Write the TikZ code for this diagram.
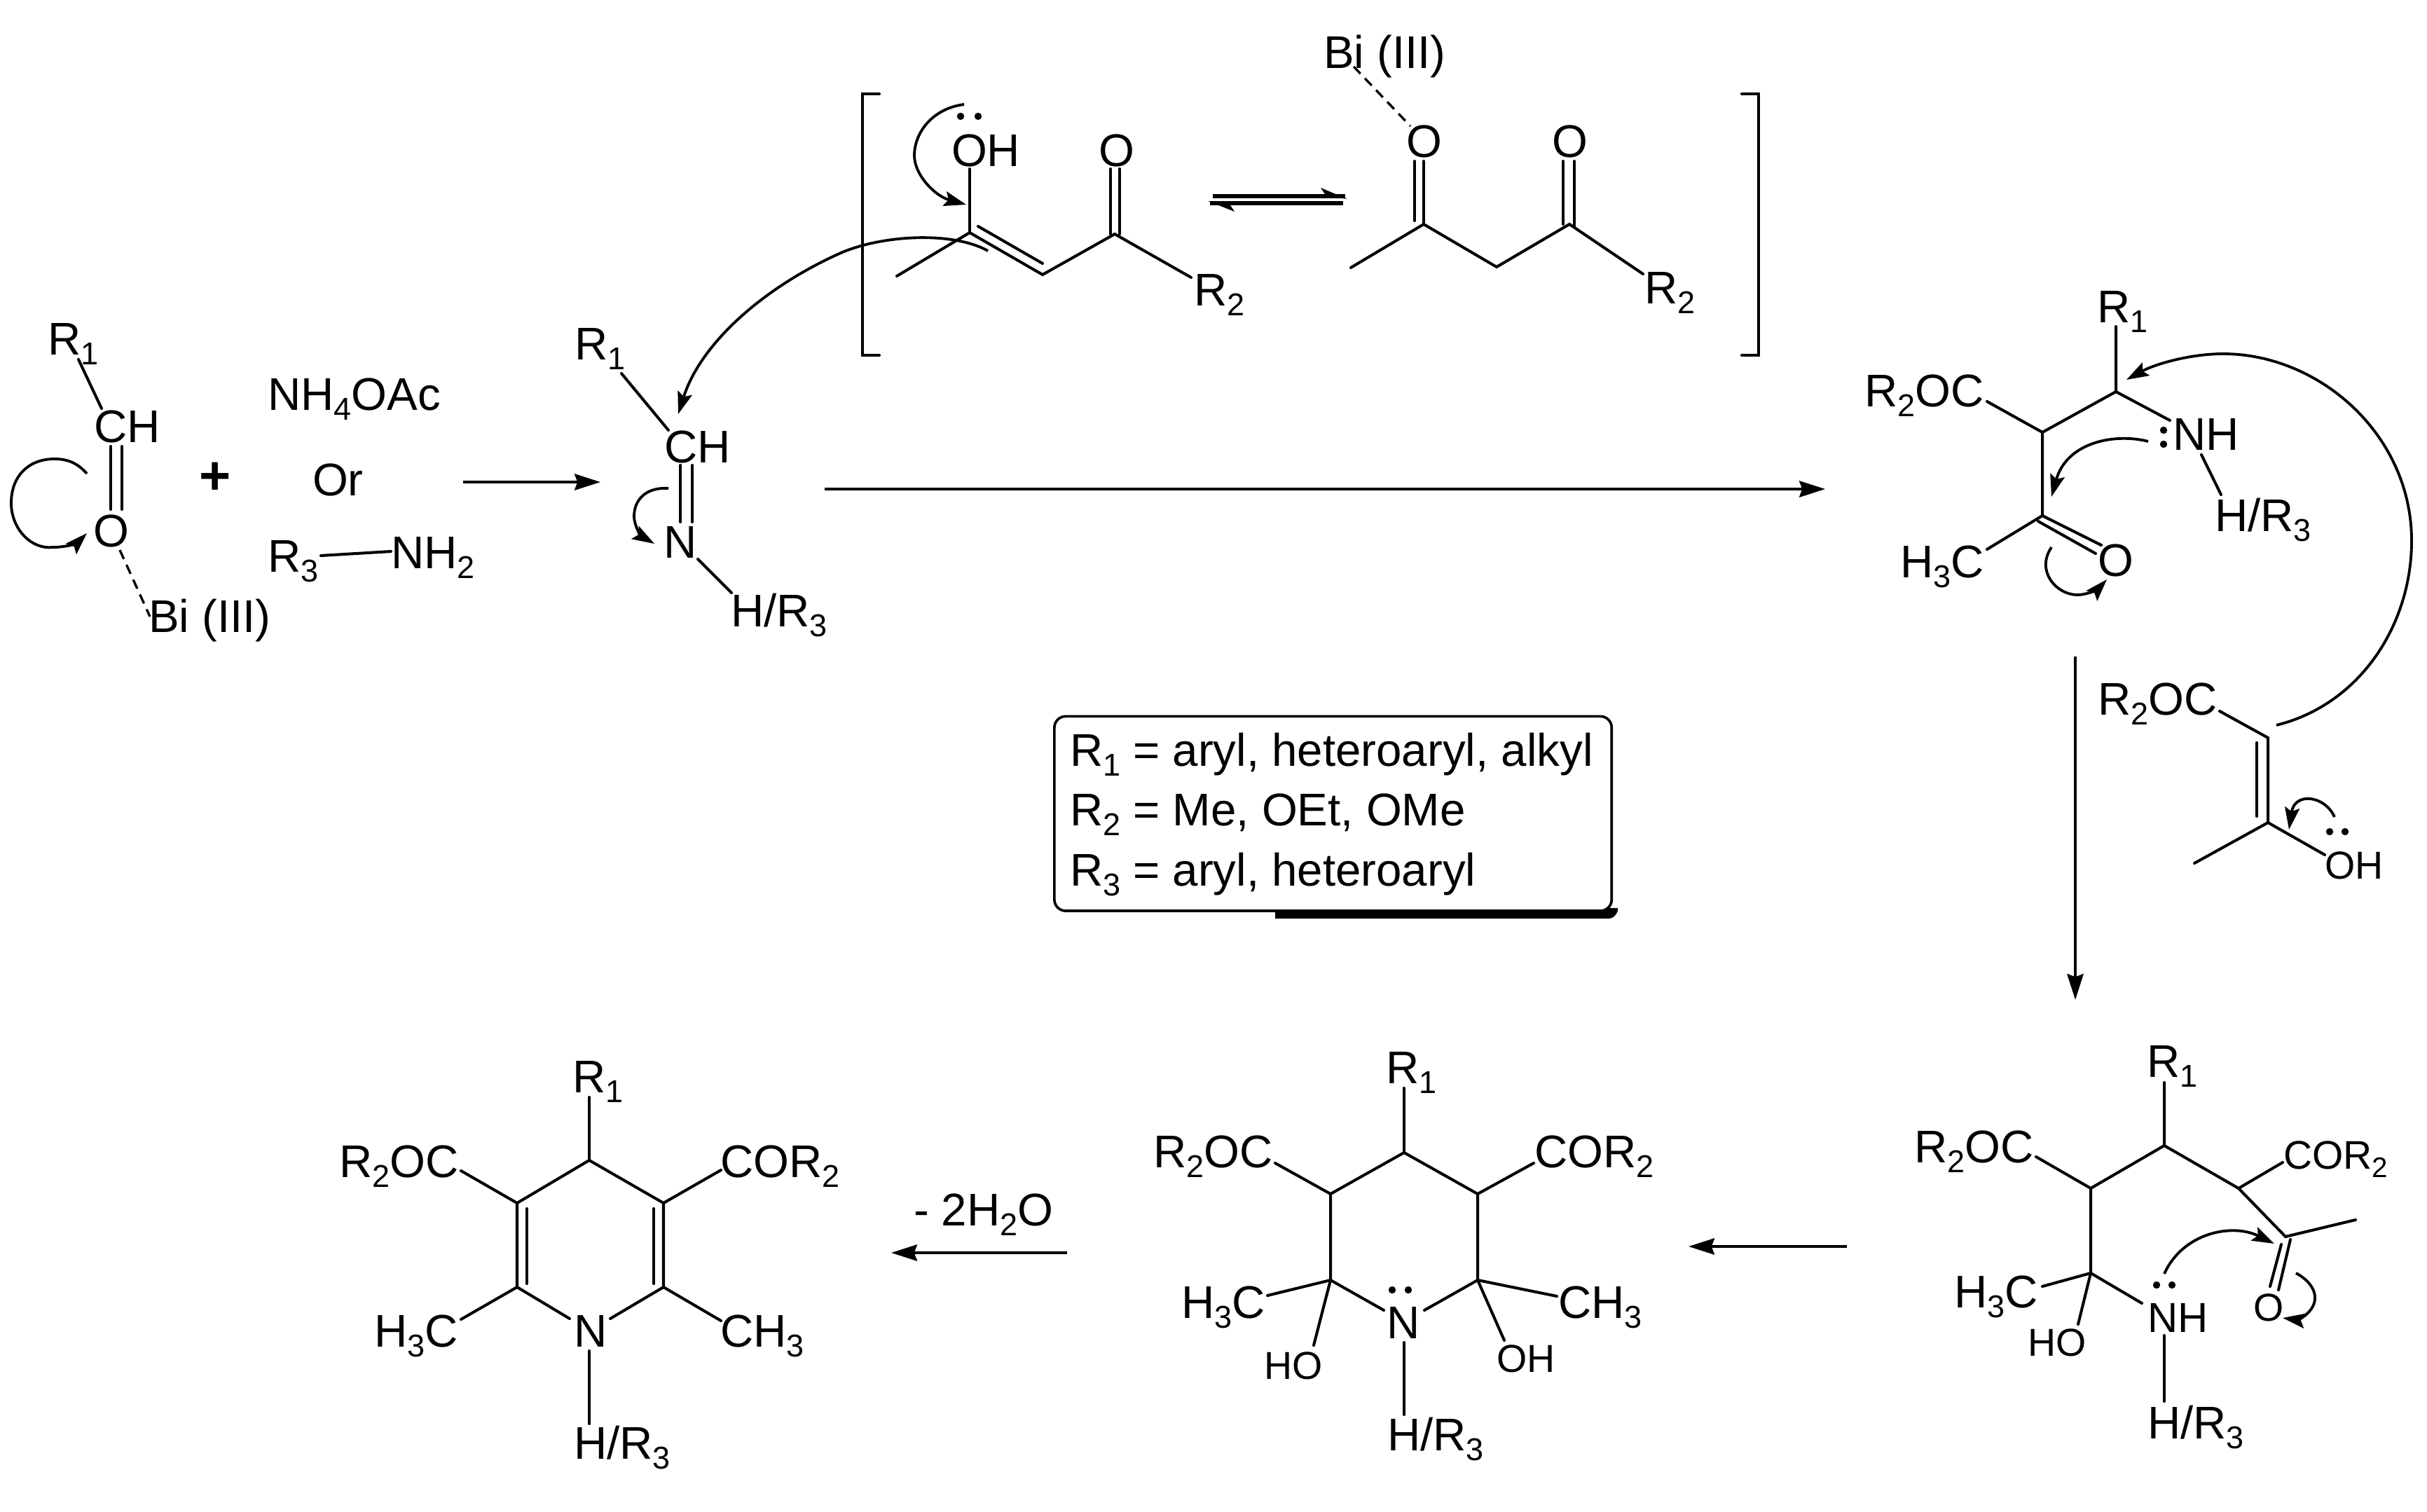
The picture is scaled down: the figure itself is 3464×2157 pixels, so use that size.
\documentclass[tikz,border=0pt]{standalone}
\usepackage{fontspec}
\setmainfont{Liberation Sans}
\usetikzlibrary{arrows.meta}
\newcommand{\sbb}[1]{\raisebox{-4pt}{\fontsize{12.8}{13}\selectfont #1}}
\newcommand{\sbm}[1]{\raisebox{-3.6pt}{\fontsize{11.5}{12}\selectfont #1}}
\newcommand{\pt}[3]{\coordinate (#1) at (#2,#3);}
\newcommand{\lb}[4]{\node[lbl] (#1) at (#2,#3) {#4};}
\newcommand{\lbs}[4]{\node[lbl,font=\fontsize{15.8}{16}\selectfont] (#1) at (#2,#3) {#4};}
\newcommand{\elp}[3]{\fill (#2,#3) circle (5.2); \coordinate (#1) at (#2,#3);}
\tikzset{
 lbl/.style={anchor=base west,inner sep=0pt,outer sep=0pt,font=\fontsize{18.6}{20}\selectfont},
 bond/.style={line width=1.15pt,line cap=round},
 dashb/.style={line width=0.95pt,dash pattern=on 4pt off 2.6pt},
 rxn/.style={line width=1.15pt,-{Stealth[length=10.5pt,width=6.6pt,inset=1.2pt]}},
 curv/.style={line width=1.1pt,-{Stealth[length=9pt,width=6pt,inset=1.6pt]}},
}
\begin{document}
\begin{tikzpicture}[x=0.01cm,y=-0.01cm]
\useasboundingbox (0,0) rectangle (3464,2157);
% ---- aldehyde
\lb{aR}{68}{506}{R\sbb{1}}
\lb{aCH}{134}{631}{CH}
\lb{aO}{133}{780}{O}
\lb{aBi}{212}{902}{Bi (III)}
\pt{a1}{112}{513}\pt{a2}{145}{583}\pt{a3}{158}{637}\pt{a4}{158}{727}\pt{a5}{174}{637}\pt{a6}{174}{727}\pt{a7}{171}{785}\pt{a8}{214}{880}
\draw[bond] (a1)--(a2); \draw[bond] (a3)--(a4); \draw[bond] (a5)--(a6);
\draw[dashb] (a7)--(a8);
\pt{ac1}{124}{676}\pt{ac2}{124}{761}
\draw[curv] (ac1) .. controls (110,660) and (95,655) .. (78,655) .. controls (40,655) and (16,680) .. (16,718) .. controls (16,755) and (45,785) .. (76,781) .. controls (95,781) and (110,775) .. (ac2);
\node[anchor=base,inner sep=0pt,font=\fontsize{22}{24}\selectfont\bfseries] (plus) at (307,705) {+};
\lb{nh4}{382}{585}{NH\sbb{4}OAc}
\lb{orr}{446}{707}{Or}
\lb{r3}{382}{816}{R\sbb{3}}
\lb{nh2}{558}{811}{NH\sbb{2}}
\pt{r3a}{458}{793}\pt{r3b}{558}{787}
\draw[bond] (r3a)--(r3b);
\pt{ar1}{661}{688}\pt{ar2}{857}{688}
\draw[rxn] (ar1)--(ar2);
% ---- imine
\lb{bR}{820}{513}{R\sbb{1}}
\lb{bCH}{948}{660}{CH}
\lb{bN}{947}{796}{N}
\lb{bH}{1043}{894}{H/R\sbb{3}}
\pt{b1}{887}{533}\pt{b2}{954}{614}\pt{b3}{971}{664}\pt{b4}{971}{745}\pt{b5}{988}{664}\pt{b6}{988}{745}\pt{b7}{996}{798}\pt{b8}{1044}{846}
\draw[bond] (b1)--(b2); \draw[bond] (b3)--(b4); \draw[bond] (b5)--(b6); \draw[bond] (b7)--(b8);
\pt{bc1}{954}{697}\pt{bc2}{934}{776}
\draw[curv] (bc1) .. controls (920,695) and (905,715) .. (905,737) .. controls (905,750) and (915,765) .. (bc2);
\pt{lc1}{1410}{358}\pt{lc2}{968}{591}
\draw[curv] (lc1) .. controls (1360,330) and (1260,335) .. (1200,361) .. controls (1090,410) and (1000,490) .. (lc2);
\pt{ar3}{1177}{698}\pt{ar4}{2605}{698}
\draw[rxn] (ar3)--(ar4);
% ---- brackets
\pt{bl1}{1255}{134}\pt{bl2}{1231}{134}\pt{bl3}{1231}{507}\pt{bl4}{1255}{507}
\pt{br1}{2486}{134}\pt{br2}{2510}{134}\pt{br3}{2510}{507}\pt{br4}{2486}{507}
\draw[bond] (bl1)--(bl2)--(bl3)--(bl4);
\draw[bond] (br1)--(br2)--(br3)--(br4);
% ---- enol
\lb{eOH}{1358}{237}{OH}
\lb{eO}{1568}{237}{O}
\lb{eR}{1704}{436}{R\sbb{2}}
\elp{ed1}{1371}{166}\elp{ed2}{1396}{166}
\pt{e1}{1384}{241}\pt{e2}{1384}{332}\pt{e3}{1280}{394}\pt{e4}{1488}{392}\pt{e5}{1396}{323}\pt{e6}{1488}{376}\pt{e7}{1591}{334}\pt{e8}{1700}{396}
\pt{e9}{1585}{241}\pt{e10}{1585}{334}\pt{e11}{1598}{241}\pt{e12}{1598}{334}
\draw[bond] (e1)--(e2); \draw[bond] (e3)--(e2)--(e4)--(e7)--(e8); \draw[bond] (e5)--(e6); \draw[bond] (e9)--(e10); \draw[bond] (e11)--(e12);
\pt{ec1}{1376}{149}\pt{ec2}{1379}{292}
\draw[curv] (ec1) .. controls (1330,155) and (1305,190) .. (1305,222) .. controls (1305,250) and (1335,280) .. (ec2);
% ---- equilibrium
\pt{q1}{1731}{280}\pt{q2}{1920}{280}\pt{q3}{1917}{290}\pt{q4}{1727}{290}
\draw[line width=1.45pt] (q1)--(q2); \draw[line width=1.45pt] (q3)--(q4);
\fill (1923,284)--(1885,268)--(1893,280)--cycle;
\fill (1724,287)--(1762,302)--(1754,290)--cycle;
% ---- keto
\lb{kBi}{1889}{97}{Bi (III)}
\lb{kO1}{2007}{224}{O}
\lb{kO2}{2215}{224}{O}
\lb{kR}{2347}{433}{R\sbb{2}}
\pt{k1}{1932}{95}\pt{k2}{2013}{180}
\draw[dashb] (k1)--(k2);
\pt{k3}{2019}{230}\pt{k4}{2019}{315}\pt{k5}{2032}{230}\pt{k6}{2032}{320}\pt{k7}{1928}{382}\pt{k8}{2136}{381}\pt{k9}{2240}{320}\pt{k10}{2345}{391}
\pt{k11}{2231}{230}\pt{k12}{2231}{320}\pt{k13}{2247}{230}\pt{k14}{2247}{324}
\draw[bond] (k3)--(k4); \draw[bond] (k5)--(k6); \draw[bond] (k7)--(k6)--(k8)--(k9)--(k10); \draw[bond] (k11)--(k12); \draw[bond] (k13)--(k14);
% ---- upper right
\lb{cR}{2993}{460}{R\sbb{1}}
\lb{cNH}{3101}{642}{NH}
\lb{cH}{3161}{758}{H/R\sbb{3}}
\lb{cCOR}{2661}{580}{R\sbb{2}OC}
\lb{cCH}{2712}{824}{H\sbb{3}C}
\lb{cO}{2994}{822}{O}
\elp{cd1}{3088}{614}\elp{cd2}{3088}{634}
\pt{c1}{3020}{466}\pt{c2}{3020}{559}\pt{c3}{3097}{600}\pt{c4}{2915}{617}\pt{c5}{2836}{573}\pt{c6}{2915}{736}\pt{c7}{2836}{784}\pt{c8}{3142}{649}\pt{c9}{3170}{706}
\pt{c10}{2999}{778}\pt{c11}{2909}{744}\pt{c12}{2991}{790}
\draw[bond] (c1)--(c2)--(c3); \draw[bond] (c2)--(c4)--(c5); \draw[bond] (c4)--(c6)--(c7); \draw[bond] (c8)--(c9); \draw[bond] (c6)--(c10); \draw[bond] (c11)--(c12);
\pt{cc1}{3066}{630}\pt{cc2}{2928}{709}
\draw[curv] (cc1) .. controls (3020,618) and (2950,630) .. (cc2);
\pt{cc3}{2928}{781}\pt{cc4}{3007}{827}
\draw[curv] (cc3) .. controls (2905,815) and (2935,849) .. (2965,849) .. controls (2980,849) and (2995,840) .. (cc4);
\pt{cc5}{3249}{1035}\pt{cc6}{3035}{542}
\draw[curv] (cc5) .. controls (3370,1005) and (3442,890) .. (3442,772) .. controls (3442,620) and (3310,505) .. (3173,505) .. controls (3125,505) and (3075,520) .. (cc6);
\pt{ar5}{2962}{937}\pt{ar6}{2962}{1427}
\draw[rxn] (ar5)--(ar6);
% ---- enol ester
\lb{dCOR}{2994}{1020}{R\sbb{2}OC}
\lbs{dOH}{3318}{1254}{OH}
\elp{dd1}{3325}{1187}\elp{dd2}{3347}{1187}
\pt{d1}{3168}{1015}\pt{d2}{3237}{1053}\pt{d3}{3237}{1174}\pt{d4}{3132}{1232}\pt{d5}{3318}{1220}\pt{d6}{3221}{1060}\pt{d7}{3221}{1165}
\draw[bond] (d1)--(d2)--(d3)--(d4); \draw[bond] (d3)--(d5); \draw[bond] (d6)--(d7);
\pt{dc1}{3332}{1166}\pt{dc2}{3267}{1184}
\draw[curv] (dc1) .. controls (3318,1135) and (3275,1130) .. (dc2);
% ---- legend
\pt{sh1}{1820}{1296}
\fill (sh1) -- (2309,1296) -- (2309,1300) .. controls (2306,1307) and (2302,1311) .. (2296,1311) -- (1820,1311) -- cycle;
\node[draw,line width=1.05pt,fill=white,rounded corners=4.6pt,minimum width=7.95cm,minimum height=2.775cm,inner sep=0pt,anchor=north west] (legend) at (1503,1020.5) {};
\lb{l1}{1527}{1093}{R\sbb{1} = aryl, heteroaryl, alkyl}
\lb{l2}{1527}{1178}{R\sbb{2} = Me, OEt, OMe}
\lb{l3}{1527}{1264}{R\sbb{3} = aryl, heteroaryl}
% ---- lower right
\lb{fR}{3064}{1537}{R\sbb{1}}
\lb{fCOL}{2732}{1659}{R\sbb{2}OC}
\node[lbl,font=\fontsize{16.2}{17}\selectfont] (fCOR) at (3259,1668) {COR\sbm{2}};
\lb{fCH}{2789}{1866}{H\sbb{3}C}
\lbs{fHO}{2894}{1935}{HO}
\node[lbl,font=\fontsize{17}{18}\selectfont] (fNH) at (3065,1901) {NH};
\lb{fH}{3065}{2053}{H/R\sbb{3}}
\lbs{fO}{3216}{1885}{O}
\elp{fd1}{3078}{1834}\elp{fd2}{3100}{1834}
\pt{f1}{3089}{1545}\pt{f2}{3089}{1635}\pt{f3}{2984}{1696}\pt{f4}{2906}{1651}\pt{f5}{3195}{1696}\pt{f6}{3258}{1659}\pt{f7}{3262}{1765}\pt{f8}{3362}{1741}
\pt{f9}{2984}{1817}\pt{f10}{2915}{1836}\pt{f11}{2966}{1890}\pt{f12}{3057}{1860}\pt{f13}{3089}{1906}\pt{f14}{3089}{2000}
\pt{f15}{3256}{1776}\pt{f16}{3240}{1836}\pt{f17}{3269}{1769}\pt{f18}{3252}{1841}
\draw[bond] (f1)--(f2)--(f3)--(f4); \draw[bond] (f2)--(f5)--(f6); \draw[bond] (f5)--(f7)--(f8); \draw[bond] (f3)--(f9)--(f10); \draw[bond] (f9)--(f11); \draw[bond] (f9)--(f12); \draw[bond] (f13)--(f14); \draw[bond] (f15)--(f16); \draw[bond] (f17)--(f18);
\pt{fc1}{3089}{1818}\pt{fc2}{3246}{1775}
\draw[curv] (fc1) .. controls (3115,1760) and (3185,1745) .. (fc2);
\pt{fc3}{3277}{1817}\pt{fc4}{3258}{1881}
\draw[curv] (fc3) .. controls (3310,1835) and (3315,1865) .. (3280,1884) -- (fc4);
\pt{ar7}{2636}{1779}\pt{ar8}{2410}{1779}
\draw[rxn] (ar7)--(ar8);
% ---- lower middle
\lb{gR}{1978}{1546}{R\sbb{1}}
\lb{gCOL}{1646}{1666}{R\sbb{2}OC}
\lb{gCOR}{2190}{1666}{COR\sbb{2}}
\lb{gCL}{1686}{1881}{H\sbb{3}C}
\lb{gCR}{2224}{1881}{CH\sbb{3}}
\lbs{gHO}{1804}{1968}{HO}
\lbs{gOH}{2136}{1958}{OH}
\lb{gN}{1979}{1910}{N}
\lb{gH}{1980}{2070}{H/R\sbb{3}}
\elp{gd1}{1987}{1841}\elp{gd2}{2010}{1841}
\pt{g1}{2004}{1553}\pt{g2}{2004}{1645}\pt{g3}{1899}{1704}\pt{g4}{2109}{1704}\pt{g5}{1899}{1827}\pt{g6}{2109}{1827}\pt{g7}{1975}{1870}\pt{g8}{2033}{1870}\pt{g9}{2004}{1916}\pt{g10}{2004}{2019}
\pt{g11}{1820}{1660}\pt{g12}{2189}{1660}\pt{g13}{1809}{1849}\pt{g14}{2222}{1850}\pt{g15}{1875}{1920}\pt{g16}{2147}{1913}
\draw[bond] (g1)--(g2); \draw[bond] (g7)--(g5)--(g3)--(g2)--(g4)--(g6)--(g8); \draw[bond] (g9)--(g10); \draw[bond] (g11)--(g3); \draw[bond] (g12)--(g4); \draw[bond] (g13)--(g5); \draw[bond] (g14)--(g6); \draw[bond] (g5)--(g15); \draw[bond] (g6)--(g16);
\pt{ar9}{1523}{1788}\pt{ar10}{1272}{1788}
\draw[rxn] (ar9)--(ar10);
\lb{water}{1304}{1749}{- 2H\sbb{2}O}
% ---- lower left
\lb{hR}{817}{1559}{R\sbb{1}}
\lb{hCOL}{484}{1680}{R\sbb{2}OC}
\lb{hCOR}{1028}{1680}{COR\sbb{2}}
\lb{hCL}{534}{1922}{H\sbb{3}C}
\lb{hCR}{1028}{1922}{CH\sbb{3}}
\lb{hN}{819}{1922}{N}
\lb{hH}{819}{2082}{H/R\sbb{3}}
\pt{h1}{841}{1566}\pt{h2}{841}{1656}\pt{h3}{738}{1717}\pt{h4}{947}{1717}\pt{h5}{738}{1837}\pt{h6}{947}{1837}\pt{h7}{813}{1882}\pt{h8}{871}{1882}\pt{h9}{841}{1928}\pt{h10}{841}{2032}
\pt{h11}{658}{1671}\pt{h12}{1029}{1670}\pt{h13}{658}{1883}\pt{h14}{1029}{1885}
\pt{h15}{752}{1725}\pt{h16}{752}{1832}\pt{h17}{933}{1725}\pt{h18}{933}{1832}
\draw[bond] (h1)--(h2); \draw[bond] (h7)--(h5)--(h3)--(h2)--(h4)--(h6)--(h8); \draw[bond] (h9)--(h10); \draw[bond] (h11)--(h3); \draw[bond] (h12)--(h4); \draw[bond] (h13)--(h5); \draw[bond] (h14)--(h6); \draw[bond] (h15)--(h16); \draw[bond] (h17)--(h18);
\end{tikzpicture}
\end{document}
